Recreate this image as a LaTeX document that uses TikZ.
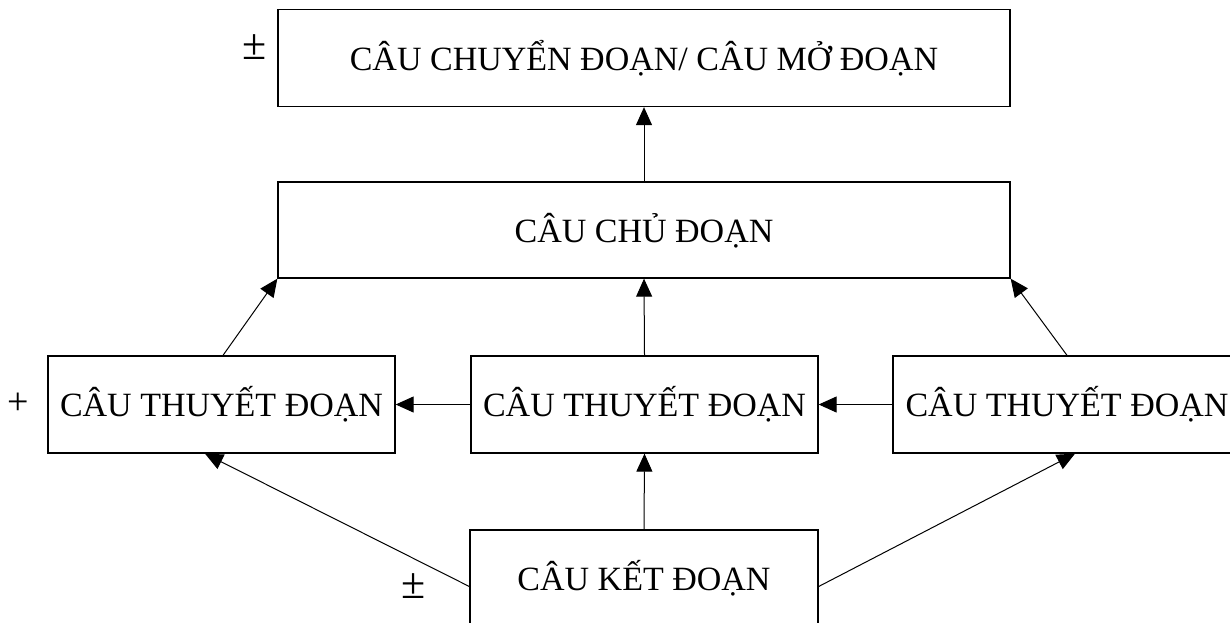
\documentclass[tikz,border=0pt]{standalone}
\usepackage{fontspec}
\setmainfont{Liberation Serif}
\usetikzlibrary{arrows.meta,calc}
\begin{document}
\begin{tikzpicture}[x=1pt,y=-1pt,
  txt/.style={font=\fontsize{34}{40}\selectfont},
  sym/.style={font=\fontsize{44}{50}\selectfont,inner sep=0pt},
  box/.style={draw,line width=1.3pt,inner sep=0pt,txt,minimum height=96,text height=24pt,text depth=0pt},
  conn/.style={line width=1pt,-{Triangle[length=18pt,width=16pt]}}]
\useasboundingbox (0,0) rectangle (1230,622);
\clip (0,0) rectangle (1230,622);
\fill[white] (0,0) rectangle (1230,622);
\node[box,minimum width=732,minimum height=97] (top) at (644,58) {CÂU CHUYỂN ĐOẠN/ CÂU MỞ ĐOẠN};
\node[box,minimum width=732] (mid) at (644,230) {CÂU CHỦ ĐOẠN};
\node[box,minimum width=347,minimum height=97] (lft) at (221.5,404.5) {CÂU THUYẾT ĐOẠN};
\node[box,minimum width=347,minimum height=97] (cen) at (644.5,404.5) {CÂU THUYẾT ĐOẠN};
\node[box,minimum width=348,minimum height=97] (rgt) at (1067,404.5) {CÂU THUYẾT ĐOẠN};
\node[box,minimum width=348,minimum height=97] (bot) at (644,578.5) {CÂU KẾT ĐOẠN};
\node[sym] (pm1) at (255,47) {±};
\node[sym,font=\fontsize{38}{44}\selectfont] (pl) at (18,404) {+};
\node[sym] (pm2) at (414,586) {±};
\draw[conn] (mid.north) -- (top.south);
\draw[conn] (cen.north) -- (mid.south);
\draw[conn] ([xshift=1.5pt]lft.north) -- (mid.south west);
\draw[conn] (rgt.north) -- (mid.south east);
\draw[conn] (cen.west) -- (lft.east);
\draw[conn] (rgt.west) -- (cen.east);
\draw[conn] (bot.north) -- (cen.south);
\draw[conn] ([yshift=-8pt]bot.west) -- ([xshift=-16.5pt]lft.south);
\draw[conn] ([yshift=-8pt]bot.east) -- ([xshift=8pt]rgt.south);
\end{tikzpicture}
\end{document}
